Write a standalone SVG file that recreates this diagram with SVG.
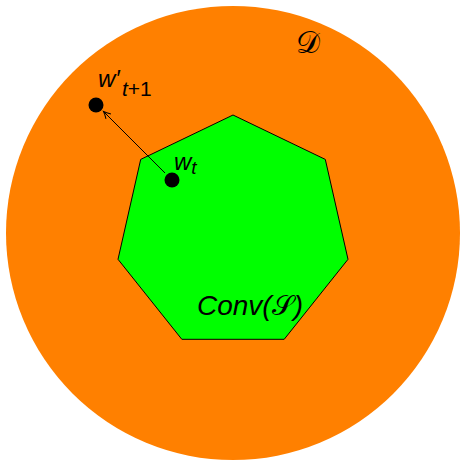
<svg xmlns="http://www.w3.org/2000/svg" width="461" height="460" viewBox="0 0 461 460">
<style>
.lbl{font-family:"Liberation Sans","DejaVu Sans",sans-serif;font-style:italic;fill:#000}
.up{font-style:normal}
.cal{font-family:"Liberation Serif","DejaVu Serif",serif;font-style:normal}
.dot{fill:#000}
</style>
<defs>
<marker id="arr" markerWidth="10" markerHeight="10" refX="8" refY="5" orient="auto" markerUnits="userSpaceOnUse">
<path d="M1,1.5 Q5,4 8,5 Q5,6 1,8.5" fill="none" stroke="#000" stroke-width="1"/>
</marker>
</defs>
<rect width="461" height="460" fill="#fff"/>
<g id="domain">
<circle cx="233" cy="233" r="227" fill="#FF8000"/>
<text class="lbl cal" x="296" y="53" font-size="30">𝒟</text>
</g>
<g id="conv">
<polygon points="233,115 325.3,159.4 348,259.3 284.2,339.3 181.8,339.3 118,259.3 140.7,159.4" fill="#00FF00" stroke="#000" stroke-width="1"/>
<text class="lbl" x="197" y="315" font-size="28">Conv(<tspan class="cal">𝒮</tspan>)</text>
</g>
<g id="connectors">
<line x1="165" y1="173" x2="103.5" y2="111.5" stroke="#000" stroke-width="1" marker-end="url(#arr)"/>
</g>
<g id="wt">
<circle class="dot" cx="172" cy="180" r="7.5"/>
<text class="lbl" x="174" y="170" font-size="24">w<tspan font-size="19" dy="4">t</tspan></text>
</g>
<g id="wt1">
<circle class="dot" cx="96" cy="105" r="7.5"/>
<text class="lbl" x="98" y="87" font-size="24">w′</text>
<text class="lbl" x="122" y="96" font-size="21">t<tspan class="up">+1</tspan></text>
</g>
</svg>
